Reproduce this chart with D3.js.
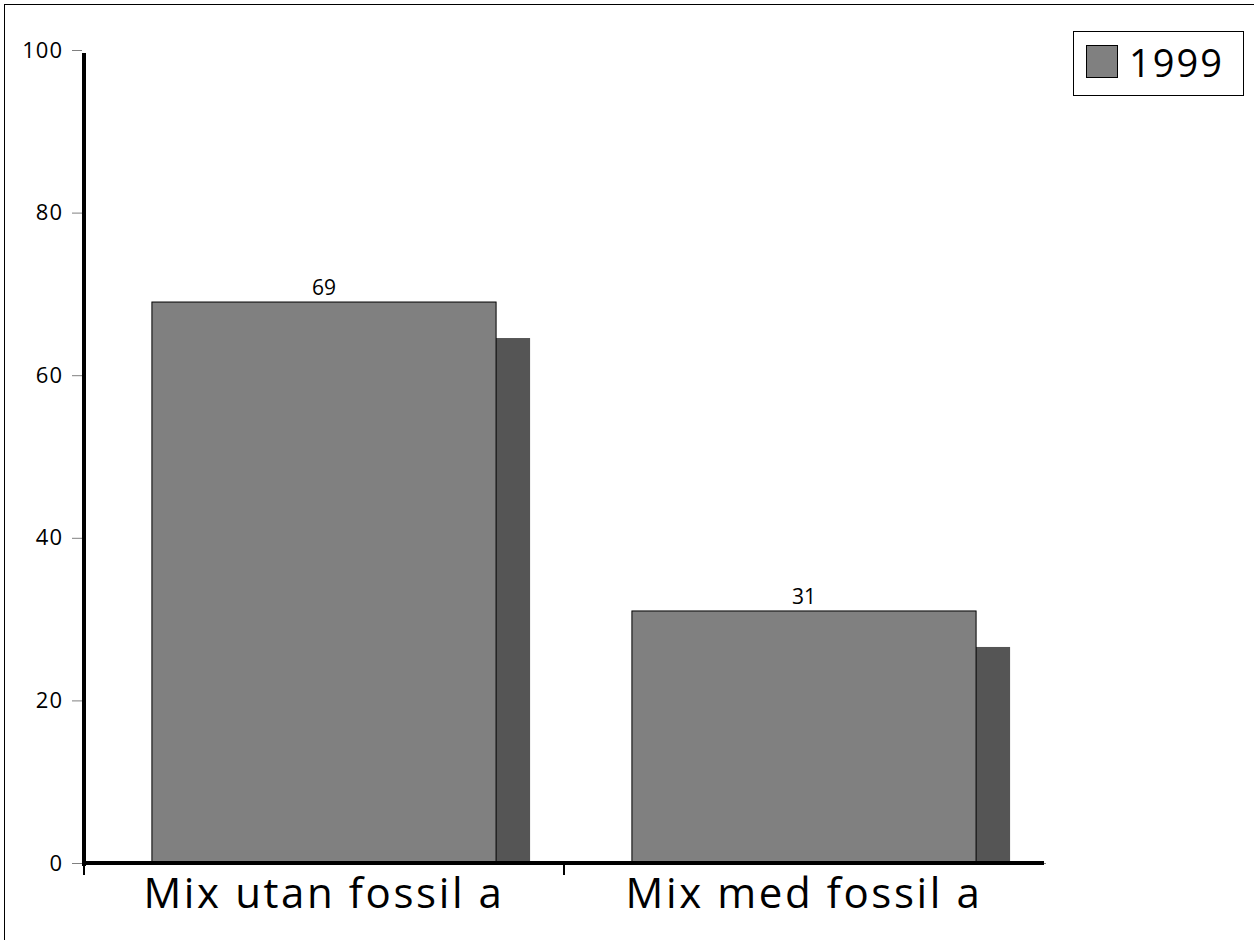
<!DOCTYPE html>
<html><head><meta charset="utf-8">
<script src="https://cdn.jsdelivr.net/npm/d3@7"></script>
<style>body{margin:0;background:#fff}svg{display:block}</style>
</head><body>
<svg id="c" width="1254" height="940"></svg>
<script>
const categories = ["Mix utan fossil a", "Mix med fossil a"];
const values = [69, 31];
const seriesName = "1999";
const yTicks = [0, 20, 40, 60, 80, 100];

const svg = d3.select("#c");
const font = "'Open Sans', 'Noto Sans', sans-serif";

svg.append("rect").attr("x",4.5).attr("y",4.5).attr("width",1270).attr("height",960)
  .attr("fill","none").attr("stroke","#000").attr("stroke-width",1);

const x0 = 84, x1 = 1044;
const y = d3.scaleLinear().domain([0,100]).range([863,50]);
const x = d3.scaleBand().domain(categories).range([x0,x1]).paddingInner(0).paddingOuter(0);
const barW = x.bandwidth()*0.717;
const dx = 34, dy = 36;

const g = svg.append("g");
categories.forEach((c,i)=>{
  const bx = x(c) + (x.bandwidth()-barW)/2;
  const top = y(values[i]);
  g.append("rect").attr("x",bx+dx).attr("y",top+dy).attr("width",barW).attr("height",y(0)-top-dy)
    .attr("fill","#555555");
  g.append("rect").attr("x",bx).attr("y",top).attr("width",barW).attr("height",y(0)-top)
    .attr("fill","#808080").attr("stroke","#000").attr("stroke-width",1);
  g.append("text").attr("x",bx+barW/2).attr("y",top-7).attr("text-anchor","middle")
    .attr("font-family",font).attr("font-size",21).attr("fill","#000").text(values[i]);
  g.append("text").attr("x",x(c)+x.bandwidth()/2).attr("y",908).attr("text-anchor","middle")
    .attr("font-family",font).attr("font-size",42).attr("letter-spacing",2.6).attr("fill","#000").text(c);
});

// y axis
const ya = svg.append("g").attr("transform",`translate(${x0-2},0)`)
  .call(d3.axisLeft(y).tickValues(yTicks).tickSize(10).tickPadding(9).tickFormat(d3.format("d")));
ya.select(".domain").remove();
ya.selectAll(".tick line").attr("stroke","#808080");
ya.selectAll(".tick text").attr("font-family",font).attr("font-size",22).attr("letter-spacing",1).attr("fill","#000");
svg.append("line").attr("x1",x0).attr("x2",x0).attr("y1",y(100)+3).attr("y2",y(0)+3)
  .attr("stroke","#000").attr("stroke-width",4);

// x axis
svg.append("line").attr("x1",x0).attr("x2",x1+2).attr("y1",y(0)+0.5).attr("y2",y(0)+0.5)
  .attr("stroke","#808080").attr("stroke-width",1);
svg.append("line").attr("x1",x0).attr("x2",x1).attr("y1",y(0)).attr("y2",y(0))
  .attr("stroke","#000").attr("stroke-width",4);
const xt = [x0, x(categories[1])];
svg.selectAll(".xt").data(xt).enter().append("line")
  .attr("x1",d=>d).attr("x2",d=>d).attr("y1",y(0)).attr("y2",y(0)+12)
  .attr("stroke","#000").attr("stroke-width",2);

// legend
const lg = svg.append("g");
lg.append("rect").attr("x",1073.5).attr("y",31.5).attr("width",170).attr("height",64)
  .attr("fill","#fff").attr("stroke","#000");
lg.append("rect").attr("x",1086.5).attr("y",45.5).attr("width",31).attr("height",32)
  .attr("fill","#808080").attr("stroke","#000");
lg.append("text").attr("x",1129).attr("y",77).attr("font-family",font).attr("font-size",38)
  .attr("letter-spacing",2).attr("fill","#000").text(seriesName);
</script>
</body></html>
